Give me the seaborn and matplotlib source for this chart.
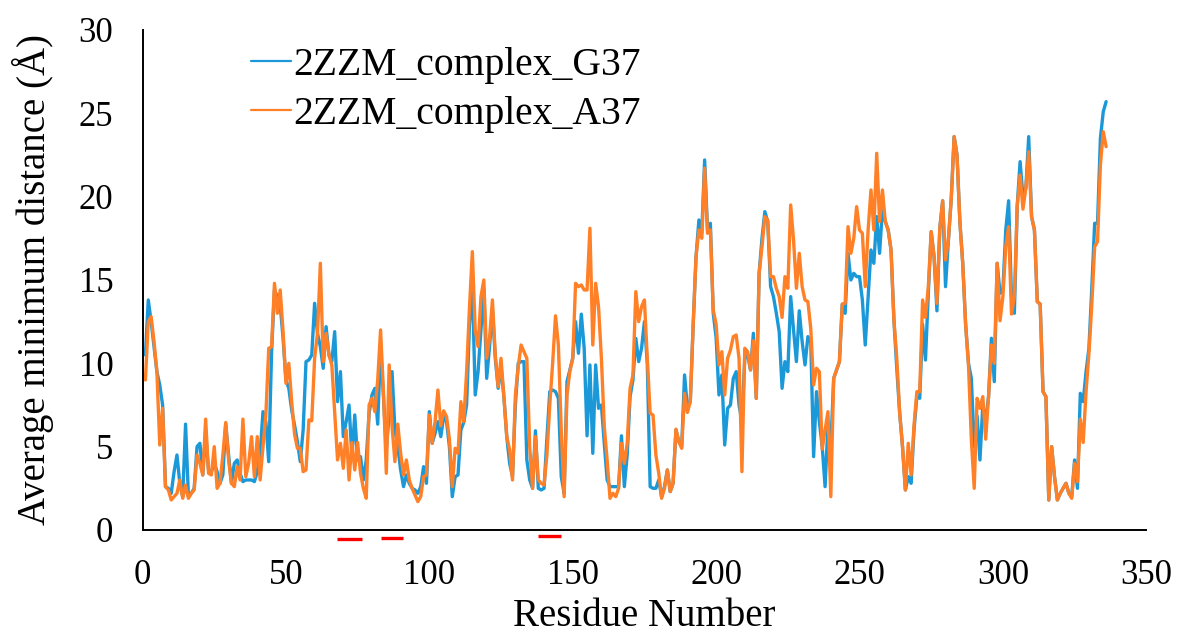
import numpy as np
import pandas as pd
import seaborn as sns
import matplotlib.pyplot as plt
from matplotlib.lines import Line2D

# Average minimum distance per residue
residues = np.arange(1, 337)

g37 = [
    10.5, 13.8, 12.5, 11.0, 9.5, 8.7, 7.5, 2.6, 2.5, 2.2,
    3.5, 4.5, 2.8, 2.0, 6.35, 2.0, 2.2, 2.5, 5.0, 5.2,
    3.3, 5.9, 3.6, 3.5, 4.0, 3.5, 2.8, 3.3, 6.35, 4.5,
    2.8, 4.0, 4.2, 3.4, 2.9, 3.0, 3.0, 3.0, 2.9, 3.5,
    4.6, 7.1, 6.5, 4.1, 10.7, 14.4, 14.0, 13.5, 11.5, 9.0,
    8.5, 7.2, 6.3, 5.3, 4.1, 6.0, 10.1, 10.2, 10.5, 13.6,
    11.8, 11.0, 9.7, 12.2, 10.5, 10.1, 11.9, 7.7, 9.5, 5.6,
    6.5, 7.5, 4.4, 6.9, 4.2, 4.4, 3.0, 4.2, 7.0, 8.1,
    8.5, 6.35, 11.0, 8.0, 4.8, 7.0, 9.5, 6.0, 5.0, 3.6,
    2.6, 3.3, 2.8, 2.5, 2.4, 2.2, 2.6, 3.8, 2.8, 7.1,
    5.2, 5.8, 6.5, 5.6, 6.8, 6.5, 5.0, 2.0, 3.2, 3.3,
    6.0, 6.45, 7.5, 12.3, 14.8, 8.1, 9.5, 12.0, 14.5, 9.1,
    11.0, 13.3, 10.3, 8.5, 9.8, 8.0, 5.6, 4.0, 3.2, 7.5,
    10.0, 10.1, 10.1, 4.2, 3.0, 2.5, 5.95, 2.5, 2.4, 2.5,
    5.5, 8.3, 8.4, 8.3, 7.9, 3.2, 2.2, 8.9, 9.6, 10.3,
    12.5, 10.6, 12.95, 10.9, 5.65, 9.9, 4.6, 9.9, 7.3, 7.5,
    5.2, 3.0, 2.6, 2.6, 2.6, 2.6, 5.65, 2.6, 4.5, 8.0,
    9.0, 11.5, 10.1, 10.9, 12.5, 10.0, 2.6, 2.5, 2.5, 3.0,
    2.0, 2.6, 3.6, 2.3, 2.8, 6.0, 5.3, 5.0, 9.3, 7.3,
    7.7, 12.3, 16.4, 18.6, 17.8, 22.2, 18.0, 18.4, 13.0, 11.55,
    8.1, 9.3, 5.1, 7.3, 7.5, 9.1, 9.5, 7.5, 6.5, 10.3,
    10.5, 9.6, 11.8, 7.9, 15.4, 17.5, 19.1, 18.5, 14.6, 14.0,
    13.0, 11.9, 8.5, 10.1, 9.5, 14.0, 12.0, 10.1, 13.15, 11.3,
    9.9, 11.6, 11.3, 4.4, 8.3, 6.5, 5.0, 2.6, 6.3, 5.0,
    9.1, 9.6, 10.1, 13.55, 13.0, 16.6, 15.0, 15.4, 15.2, 15.2,
    13.8, 11.1, 14.0, 16.8, 16.0, 18.8, 16.6, 19.25, 18.5, 18.0,
    16.8, 12.6, 9.7, 7.05, 5.0, 2.4, 3.2, 2.8, 6.0, 8.0,
    7.9, 12.35, 10.2, 14.2, 17.9, 16.4, 13.15, 18.1, 19.75, 14.6,
    17.4, 19.9, 23.6, 22.5, 18.5, 16.0, 12.35, 10.0, 9.1, 5.0,
    6.85, 4.2, 7.5, 6.5, 8.0, 11.5, 8.9, 16.0, 14.2, 14.4,
    18.0, 19.75, 14.0, 13.0, 19.45, 22.1, 20.0, 20.5, 23.6, 18.8,
    18.0, 13.7, 13.55, 8.3, 8.0, 1.8, 5.0, 3.2, 1.8, 2.2,
    2.5, 2.8, 2.2, 2.0, 4.2, 2.5, 8.2, 7.7, 9.5, 10.9,
    14.5, 18.4, 18.4, 23.5, 25.1, 25.7,
]

a37 = [
    9.0, 12.5, 12.8, 11.3, 9.5, 5.1, 7.3, 2.6, 2.4, 1.8,
    2.0, 2.2, 3.0, 1.9, 2.7, 1.9, 2.2, 2.4, 4.5, 4.0,
    3.3, 6.65, 3.4, 3.3, 5.0, 2.5, 2.8, 4.5, 6.45, 4.2,
    2.8, 2.6, 3.8, 3.0, 6.65, 3.2, 4.0, 5.6, 3.2, 5.6,
    3.0, 5.0, 6.9, 10.9, 11.0, 14.8, 13.0, 14.4, 11.9, 8.8,
    10.0, 7.7, 5.75, 4.9, 4.9, 3.5, 3.6, 6.6, 6.55, 10.3,
    11.8, 16.0, 10.1, 11.8, 10.5, 9.9, 7.0, 4.2, 5.2, 3.7,
    6.0, 3.0, 5.25, 3.6, 5.25, 3.4, 2.5, 1.9, 7.5, 7.9,
    7.1, 9.0, 12.0, 8.3, 3.4, 9.9, 6.2, 4.1, 6.35, 4.6,
    3.3, 4.2, 3.0, 2.5, 2.1, 1.7, 2.0, 3.2, 3.3, 6.9,
    5.2, 6.5, 8.4, 6.25, 7.15, 6.8, 5.45, 2.6, 4.9, 4.6,
    7.7, 6.5, 9.5, 13.35, 16.7, 12.0, 11.0, 14.0, 15.0, 10.3,
    11.5, 13.8, 10.5, 8.6, 10.3, 8.0, 5.6, 4.8, 3.0, 8.1,
    9.8, 11.1, 10.7, 10.3, 5.0, 2.5, 5.6, 3.0, 2.8, 2.7,
    4.5, 7.5, 10.0, 12.85, 11.1, 6.0, 2.0, 8.1, 9.5, 10.3,
    14.8, 14.6, 14.7, 14.4, 14.4, 18.1, 11.1, 14.8, 13.4, 10.3,
    6.2, 4.2, 1.9, 2.2, 2.0, 2.5, 5.2, 4.0, 5.2, 8.5,
    9.3, 14.3, 12.5, 13.4, 13.8, 10.3, 7.0, 6.9, 4.5, 3.4,
    1.9, 2.5, 3.6, 2.3, 2.8, 6.05, 5.3, 4.9, 8.2, 7.05,
    7.7, 12.3, 16.4, 18.0, 17.5, 21.7, 17.8, 18.0, 13.2, 12.35,
    9.9, 10.7, 8.1, 10.3, 10.8, 11.6, 11.7, 10.3, 3.5, 10.9,
    10.7, 9.6, 11.35, 7.9, 15.4, 17.0, 18.8, 18.6, 15.2, 15.2,
    14.5, 14.0, 12.75, 15.2, 14.5, 19.5, 17.4, 14.5, 16.6, 14.6,
    13.8, 13.7, 12.1, 8.7, 9.7, 9.5, 4.85, 6.0, 7.1, 2.0,
    9.1, 9.6, 10.1, 13.55, 13.6, 18.2, 16.6, 17.5, 19.4, 18.0,
    17.8, 14.6, 18.0, 20.4, 18.0, 22.6, 18.5, 20.4, 18.5, 18.0,
    16.8, 12.6, 10.3, 7.05, 5.0, 2.4, 5.2, 3.3, 6.25, 8.3,
    8.3, 13.8, 12.75, 14.6, 17.9, 16.4, 13.6, 18.1, 19.75, 16.2,
    17.4, 19.9, 23.6, 22.5, 18.5, 16.0, 12.35, 9.9, 5.45, 2.5,
    7.9, 7.3, 8.0, 5.45, 8.0, 11.1, 10.0, 16.0, 12.55, 14.0,
    17.0, 18.2, 12.95, 14.0, 19.45, 21.3, 19.25, 20.5, 22.7, 18.8,
    18.0, 13.7, 13.55, 8.3, 8.0, 1.8, 5.0, 3.2, 1.8, 2.2,
    2.5, 2.8, 2.2, 1.9, 4.0, 2.9, 6.65, 5.25, 8.3, 10.6,
    13.5, 17.0, 17.3, 21.9, 23.9, 23.0,
]

series_names = ['2ZZM_complex_G37', '2ZZM_complex_A37']
series_colors = ['#1B98D8', '#FF8026']

# red marks under the x axis (residue ranges)
mark_start = [67.7, 83.2, 138.0]
mark_end = [76.4, 90.9, 145.8]
mark_y = [-0.56, -0.48, -0.36]

xticks = [0, 50, 100, 150, 200, 250, 300, 350]
yticks = [0, 5, 10, 15, 20, 25, 30]

df = pd.DataFrame({
    'Residue': np.concatenate([residues, residues]),
    'Distance': np.concatenate([g37, a37]),
    'Complex': [series_names[0]] * len(g37) + [series_names[1]] * len(a37),
})

sns.set_style('white')
plt.rcParams['font.family'] = ['Liberation Serif', 'DejaVu Serif']
plt.rcParams['text.color'] = 'black'
plt.rcParams['axes.labelcolor'] = 'black'
plt.rcParams['xtick.color'] = 'black'
plt.rcParams['ytick.color'] = 'black'

fig = plt.figure(figsize=(11.81, 6.35), dpi=100)
ax = fig.add_axes([0.1207, 0.1654, 0.8499, 0.7874])

sns.lineplot(data=df, x='Residue', y='Distance', hue='Complex',
             palette=dict(zip(series_names, series_colors)),
             linewidth=2.4, ax=ax, legend=False)

for x0, x1, y in zip(mark_start, mark_end, mark_y):
    ax.plot([x0, x1], [y, y], color='red', linewidth=2.4, clip_on=False,
            solid_capstyle='butt')

ax.set_xlim(0, 350)
ax.set_ylim(0, 30)
ax.set_xticks(xticks)
ax.set_yticks(yticks)
ax.tick_params(axis='both', direction='out', length=9, width=1.2,
               labelsize=25, color='black', labelcolor='black', pad=12)

for side in ['top', 'right']:
    ax.spines[side].set_visible(False)
for side in ['left', 'bottom']:
    ax.spines[side].set_color('black')
    ax.spines[side].set_linewidth(1.4)

ax.set_xlabel('Residue Number', fontsize=28, color='black')
ax.set_ylabel('Average minimum distance (Å)', fontsize=28, color='black')
ax.xaxis.set_label_coords(0.5, -0.136)
ax.yaxis.set_label_coords(-0.088, 0.5)

handles = [Line2D([], [], color=c, linewidth=1.6) for c in series_colors]
leg = ax.legend(handles, series_names, loc='upper left', bbox_to_anchor=(0.108, 0.966),
                frameon=False, fontsize=28.5, handlelength=1.0, handletextpad=0.08,
                labelspacing=0.3, borderaxespad=0, borderpad=0)
for t in leg.get_texts():
    t.set_color('black')

plt.savefig('out.png', dpi=100)
